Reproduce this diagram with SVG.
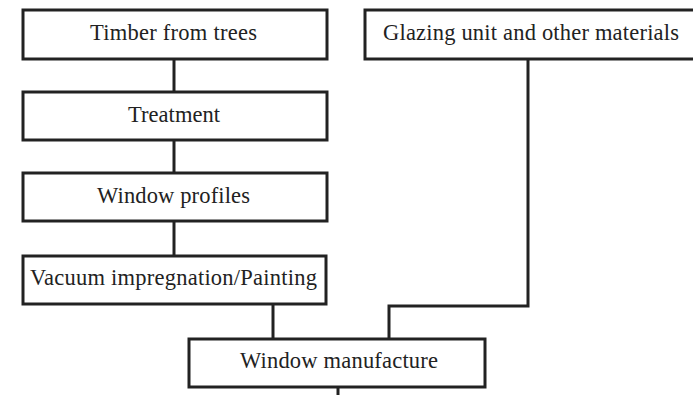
<svg xmlns="http://www.w3.org/2000/svg" width="693" height="395" viewBox="0 0 693 395">
<style>
.box{fill:#fff;stroke:#222;stroke-width:3}
.lbl{font-family:"Liberation Serif","Times New Roman",serif;font-size:22.5px;fill:#222}
.con{fill:none;stroke:#222;stroke-width:3}
</style>
<rect width="693" height="395" fill="#fff"/>
<g id="connectors">
<line class="con" x1="174" y1="58" x2="174" y2="93"/>
<line class="con" x1="174" y1="140" x2="174" y2="173"/>
<line class="con" x1="174" y1="221" x2="174" y2="256"/>
<line class="con" x1="273" y1="303" x2="273" y2="340"/>
<polyline class="con" points="528,58 528,306 389,306 389,340"/>
<line class="con" x1="338" y1="386" x2="338" y2="395"/>
</g>
<g id="timber"><rect class="box" x="23" y="10" width="304" height="49"/><text class="lbl" x="90" y="40" textLength="167">Timber from trees</text></g>
<g id="treatment"><rect class="box" x="23" y="92" width="304" height="48"/><text class="lbl" x="128" y="122" textLength="92">Treatment</text></g>
<g id="profiles"><rect class="box" x="23" y="173" width="304" height="48"/><text class="lbl" x="97" y="203" textLength="153">Window profiles</text></g>
<g id="vacuum"><rect class="box" x="23" y="256" width="303" height="48"/><text class="lbl" x="30" y="285" textLength="287">Vacuum impregnation/Painting</text></g>
<g id="glazing"><rect class="box" x="365" y="10" width="340" height="49"/><text class="lbl" x="383" y="40" textLength="296">Glazing unit and other materials</text></g>
<g id="manufacture"><rect class="box" x="189" y="339" width="296" height="48"/><text class="lbl" x="240" y="368" textLength="198">Window manufacture</text></g>
</svg>
